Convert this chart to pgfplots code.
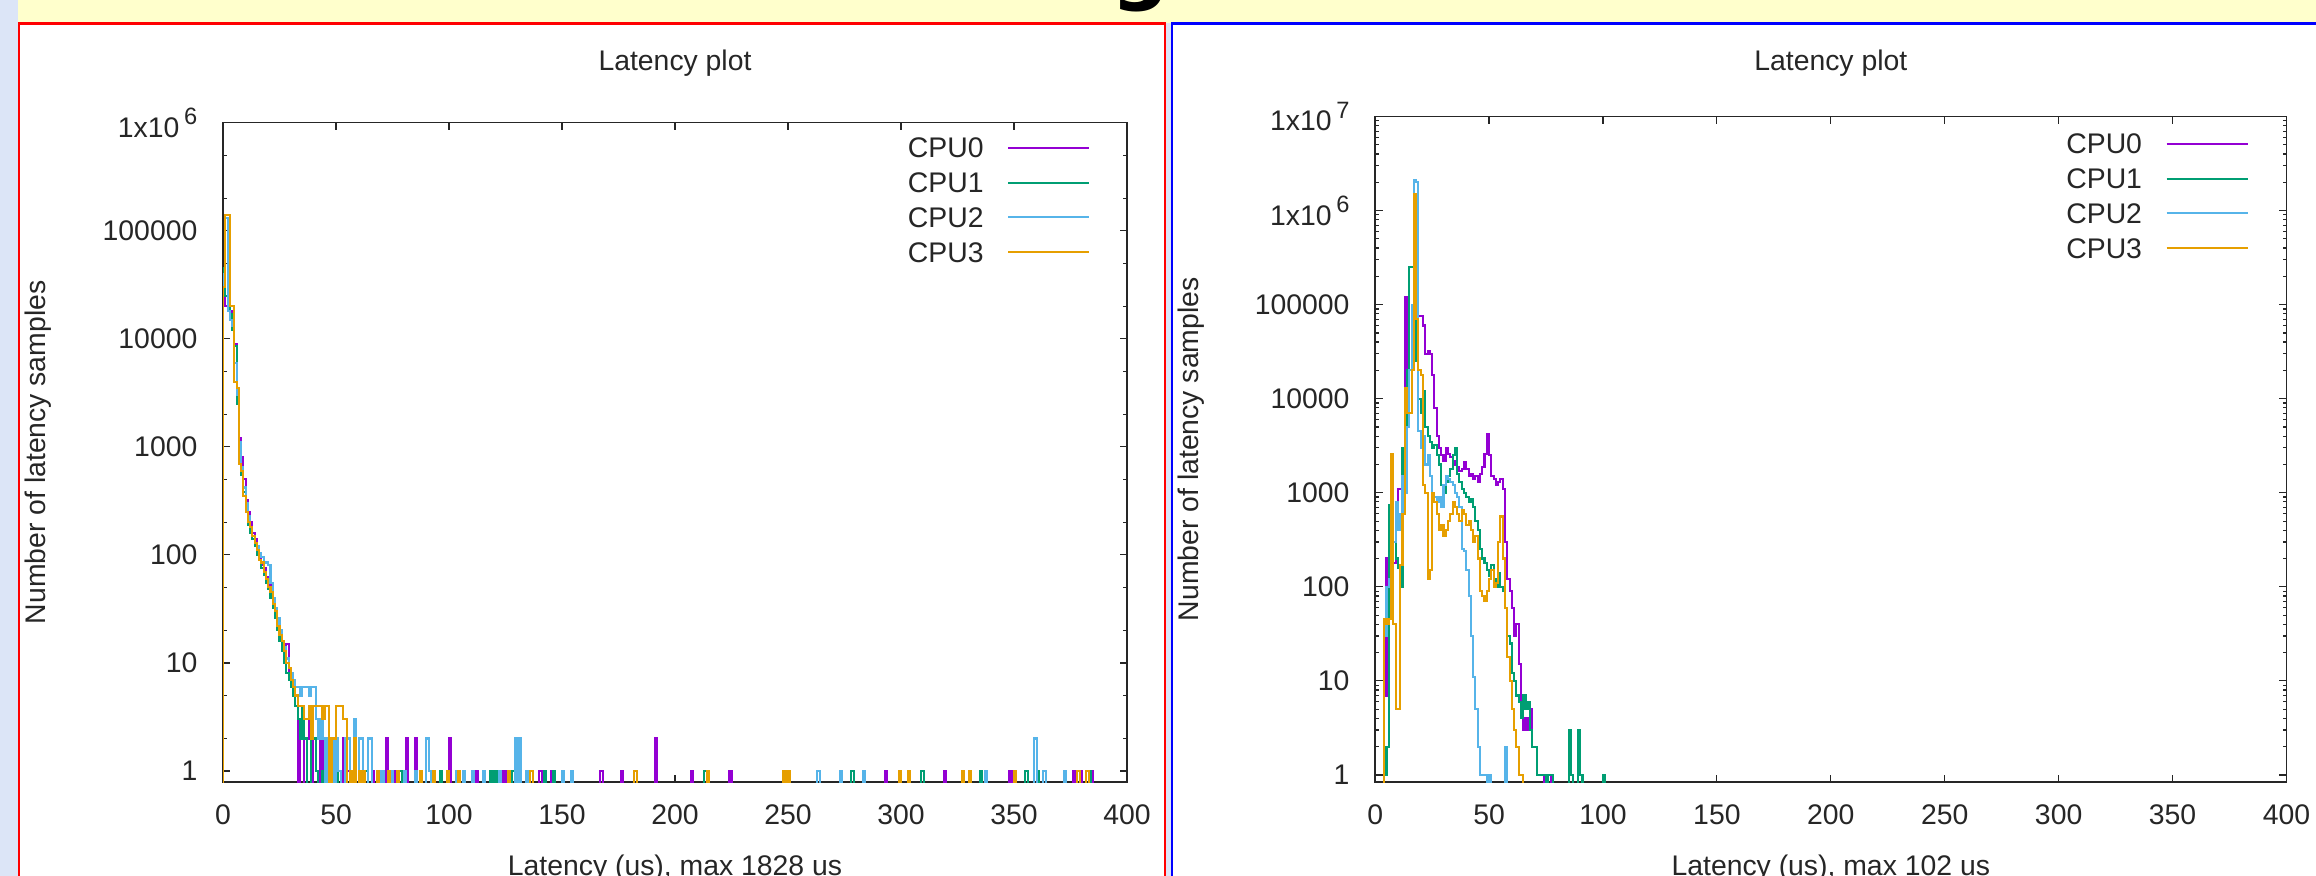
\documentclass[border=0pt]{standalone}
\usepackage{fontspec}
\setmainfont{Liberation Sans}
\newfontfamily\djv{DejaVu Sans}
\usepackage{pgfplots}
\pgfplotsset{compat=1.18}

\definecolor{cpuA}{HTML}{9400D3}
\definecolor{cpuB}{HTML}{009E73}
\definecolor{cpuC}{HTML}{56B4E9}
\definecolor{cpuD}{HTML}{E69F00}
\definecolor{pagebg}{HTML}{DCE5F7}
\definecolor{banner}{HTML}{FFFFCC}
\definecolor{txt}{HTML}{262626}

\begin{document}
\fontsize{9.6}{11.5}\selectfont
\begin{tikzpicture}
\path[use as bounding box] (0,0) rectangle (784pt,296.5pt);
\clip (0,0) rectangle (784pt,296.5pt);

% page furniture, in pixels of the 1568x593 view
\begin{scope}[x=0.5pt, y=-0.5pt, yshift=296.5pt]
  \fill[pagebg] (0,0) rectangle (1568,593);
  \fill[banner] (12.5,0) rectangle (1568,15.8);
  \node[anchor=base, inner sep=0pt, font=\djv\bfseries\fontsize{27.5}{30}\selectfont] at (772,-3.6) {g};
  \filldraw[fill=white, draw=red, line width=0.8pt] (12.9,15.8) rectangle (788.7,640);
  \filldraw[fill=white, draw=blue, line width=0.8pt] (793.5,15.8) rectangle (1600,640);
\end{scope}

% left plot
\begin{semilogyaxis}[
  scale only axis,
  at={(75.5pt,31.75pt)}, anchor=south west,
  width=306pt, height=223.25pt,
  xmin=0, xmax=400, ymin=0.79, ymax=1e6,
  xtick={0,50,100,150,200,250,300,350,400},
  xticklabels={0,50,100,150,200,250,300,350,400},
  ytick={1,1e1,1e2,1e3,1e4,1e5,1e6},
  yticklabels={1,10,100,1000,10000,100000,{1x10\,\raisebox{0.45em}{\fontsize{8}{8}\selectfont 6}}},
  minor ytick={2,5,20,50,200,500,2e3,5e3,2e4,5e4,2e5,5e5},
  tick pos=both, tick align=inside,
  major tick length=2.5pt, minor tick length=1.3pt,
  every tick/.style={black!85, line width=0.4pt},
  axis line style={black!85, line width=0.5pt},
  xticklabel style={inner sep=0pt, anchor=north, yshift=-7.5pt, text=txt},
  yticklabel style={inner sep=0pt, anchor=east, xshift=-8.5pt, text=txt},
  every axis y label/.style={at={(rel axis cs:0,0.5)}, xshift=-62.5pt, rotate=90, anchor=center, text=txt},
  every axis x label/.style={at={(rel axis cs:0.5,0)}, yshift=-29.25pt, anchor=center, text=txt},
  every axis title/.style={at={(rel axis cs:0.5,1)}, yshift=20pt, anchor=center, text=txt},
  title={Latency plot},
  xlabel={Latency (us), max 1828 us},
  ylabel={Number of latency samples},
  legend plot pos=right, legend cell align=right,
  legend image code/.code={\draw[#1, line width=0.7pt] (0pt,0pt) -- (27.5pt,0pt);},
  legend style={draw=none, fill=none, inner sep=0pt, at={(1,1)}, anchor=north east,
    xshift=-12.15pt, yshift=-4.85pt, row sep=4.9pt, column sep=8pt,
    nodes={inner sep=0pt, text height=6.9pt, text depth=0pt, text=txt}},
]
\addplot[const plot, mark=none, line width=0.7pt, cpuA] coordinates {(0,0.1)(0,35000)(1,20000)(2,22000)(3,18000)(4,15000)(5,9000)(6,3000)(7,1200)(8,800)(9,500)(10,320)(11,250)(12,200)(13,160)(14,140)(15,110)(16,100)(17,80)(18,75)(19,62)(20,55)(21,42)(22,36)(23,30)(24,25)(25,20)(26,15)(27,13)(28,15)(29,8)(30,7)(31,5)(32,4)(33,0.1)(34,3)(35,2)(36,0.1)(37,2)(38,3)(39,0.1)(40,2)(41,1)(42,0.1)(43,2)(44,0.1)(45,1)(46,0.1)(47,2)(48,0.1)(50,1)(51,0.1)(53,2)(54,0.1)(55,1)(56,0.1)(58,1)(59,0.1)(61,1)(62,0.1)(66,1)(67,0.1)(72,2)(73,0.1)(75,1)(76,0.1)(81,2)(82,0.1)(85,2)(86,0.1)(100,2)(101,0.1)(112,1)(113,0.1)(124,1)(125,0.1)(131,1)(132,0.1)(140,1)(141,0.1)(145,1)(146,0.1)(167,1)(168,0.1)(176,1)(177,0.1)(191,2)(192,0.1)(207,1)(208,0.1)(224,1)(225,0.1)(283,1)(284,0.1)(293,1)(294,0.1)(319,1)(320,0.1)(348,1)(349,0.1)(376,1)(377,0.1)(379,1)(380,0.1)(384,1)(385,0.1)};
\addplot[const plot, mark=none, line width=0.7pt, cpuB] coordinates {(0,0.1)(0,45000)(1,25000)(2,22000)(3,17000)(4,12000)(5,8500)(6,2500)(7,900)(8,550)(9,380)(10,260)(11,190)(12,160)(13,140)(14,120)(15,100)(16,90)(17,75)(18,65)(19,55)(20,48)(21,40)(22,32)(23,26)(24,20)(25,16)(26,13)(27,10)(28,8)(29,7)(30,6)(31,5)(32,4)(33,3)(34,2)(35,4)(36,2)(37,0.1)(39,3)(40,2)(41,1)(42,0.1)(44,1)(45,0.1)(48,1)(49,0.1)(51,1)(52,0.1)(57,1)(58,0.1)(63,1)(64,0.1)(70,1)(71,0.1)(78,1)(79,0.1)(96,1)(97,0.1)(118,1)(119,0.1)(120,1)(121,0.1)(128,1)(129,0.1)(142,1)(143,0.1)(146,1)(147,0.1)(213,1)(214,0.1)(278,1)(279,0.1)(309,1)(310,0.1)(335,1)(336,0.1)(355,1)(356,0.1)(360,1)(361,0.1)(383,1)(384,0.1)};
\addplot[const plot, mark=none, line width=0.7pt, cpuC] coordinates {(0,0.1)(0,40000)(1,130000)(2,18000)(3,15000)(4,13000)(5,6000)(6,3000)(7,1100)(8,650)(9,420)(10,300)(11,230)(12,180)(13,150)(14,130)(15,120)(16,105)(17,95)(18,85)(19,85)(20,80)(21,55)(22,40)(23,32)(24,26)(25,20)(26,16)(27,14)(28,11)(29,9)(30,8)(31,7)(32,6)(33,6)(34,5)(35,6)(36,6)(37,6)(38,5)(39,6)(40,6)(41,3)(42,2)(43,3)(44,2)(45,0.1)(46,2)(47,1)(48,2)(49,0.1)(50,2)(51,1)(52,0.1)(54,2)(55,2)(56,0.1)(58,3)(59,0.1)(60,2)(61,2)(62,0.1)(64,2)(65,2)(66,0.1)(70,1)(71,0.1)(74,1)(75,0.1)(80,1)(81,0.1)(85,1)(86,0.1)(90,2)(91,1)(92,0.1)(103,1)(104,0.1)(106,1)(107,0.1)(110,1)(111,0.1)(115,1)(116,0.1)(122,1)(123,0.1)(129,2)(130,0.1)(131,2)(132,0.1)(134,1)(135,0.1)(150,1)(151,0.1)(154,1)(155,0.1)(263,1)(264,0.1)(273,1)(274,0.1)(283,1)(284,0.1)(337,1)(338,0.1)(359,2)(360,0.1)(363,1)(364,0.1)(372,1)(373,0.1)};
\addplot[const plot, mark=none, line width=0.7pt, cpuD] coordinates {(0,0.1)(0,30000)(1,140000)(2,140000)(3,20000)(4,20000)(5,4000)(6,3500)(7,700)(8,600)(9,350)(10,250)(11,200)(12,180)(13,150)(14,130)(15,110)(16,90)(17,85)(18,70)(19,60)(20,50)(21,45)(22,35)(23,30)(24,22)(25,18)(26,16)(27,13)(28,10)(29,9)(30,7)(31,6)(32,5)(33,4)(34,4)(35,4)(36,3)(37,3)(38,4)(39,2)(40,4)(41,4)(42,4)(43,4)(44,3)(45,4)(46,4)(47,0.1)(48,2)(49,2)(50,4)(51,4)(52,4)(53,3)(54,3)(55,0.1)(56,1)(57,0.1)(58,2)(59,0.1)(60,1)(61,0.1)(62,1)(63,0.1)(68,1)(69,0.1)(73,1)(74,0.1)(77,1)(78,0.1)(87,1)(88,0.1)(93,1)(94,0.1)(99,1)(100,0.1)(104,1)(105,0.1)(126,1)(127,0.1)(136,1)(137,0.1)(182,1)(183,0.1)(214,1)(215,0.1)(248,1)(249,0.1)(250,1)(251,0.1)(299,1)(300,0.1)(303,1)(304,0.1)(327,1)(328,0.1)(330,1)(331,0.1)(350,1)(351,0.1)(378,1)(379,0.1)(382,1)(383,0.1)};
\legend{CPU0,CPU1,CPU2,CPU3}
\end{semilogyaxis}

% right plot
\begin{semilogyaxis}[
  scale only axis,
  at={(465.5pt,31.75pt)}, anchor=south west,
  width=308.5pt, height=225.3pt,
  xmin=0, xmax=400, ymin=0.84, ymax=1e7,
  xtick={0,50,100,150,200,250,300,350,400},
  xticklabels={0,50,100,150,200,250,300,350,400},
  ytick={1,1e1,1e2,1e3,1e4,1e5,1e6,1e7},
  yticklabels={1,10,100,1000,10000,100000,{1x10\,\raisebox{0.45em}{\fontsize{8}{8}\selectfont 6}},{1x10\,\raisebox{0.45em}{\fontsize{8}{8}\selectfont 7}}},
  minor ytick={2,3,4,5,6,7,8,9,20,30,40,50,60,70,80,90,200,300,400,500,600,700,800,900,2e3,3e3,4e3,5e3,6e3,7e3,8e3,9e3,2e4,3e4,4e4,5e4,6e4,7e4,8e4,9e4,2e5,3e5,4e5,5e5,6e5,7e5,8e5,9e5,2e6,3e6,4e6,5e6,6e6,7e6,8e6,9e6},
  tick pos=both, tick align=inside,
  major tick length=2.5pt, minor tick length=1.3pt,
  every tick/.style={black!85, line width=0.4pt},
  axis line style={black!85, line width=0.5pt},
  xticklabel style={inner sep=0pt, anchor=north, yshift=-7.5pt, text=txt},
  yticklabel style={inner sep=0pt, anchor=east, xshift=-8.5pt, text=txt},
  every axis y label/.style={at={(rel axis cs:0,0.5)}, xshift=-62.25pt, rotate=90, anchor=center, text=txt},
  every axis x label/.style={at={(rel axis cs:0.5,0)}, yshift=-29.25pt, anchor=center, text=txt},
  every axis title/.style={at={(rel axis cs:0.5,1)}, yshift=18pt, anchor=center, text=txt},
  title={Latency plot},
  xlabel={Latency (us), max 102 us},
  ylabel={Number of latency samples},
  legend plot pos=right, legend cell align=right,
  legend image code/.code={\draw[#1, line width=0.7pt] (0pt,0pt) -- (27.5pt,0pt);},
  legend style={draw=none, fill=none, inner sep=0pt, at={(1,1)}, anchor=north east,
    xshift=-12.5pt, yshift=-5.55pt, row sep=4.9pt, column sep=8pt,
    nodes={inner sep=0pt, text height=6.9pt, text depth=0pt, text=txt}},
]
\addplot[const plot, mark=none, line width=0.7pt, cpuA] coordinates {(4,0.1)(4,7)(5,200)(6,150)(7,250)(8,180)(9,600)(10,1100)(11,1100)(12,900)(13,120000)(14,13000)(15,20000)(16,50000)(17,80000)(18,60000)(19,76000)(20,76000)(21,60000)(22,30000)(23,32000)(24,30000)(25,18000)(26,8000)(27,4000)(28,3000)(29,2500)(30,2200)(31,3000)(32,2600)(33,2400)(34,2200)(35,2000)(36,1900)(37,1700)(38,1800)(39,2100)(40,1800)(41,1500)(42,1600)(43,1400)(44,1500)(45,1300)(46,1600)(47,1900)(48,2600)(49,4200)(50,2500)(51,1500)(52,1400)(53,1200)(54,1300)(55,1400)(56,1100)(57,300)(58,120)(59,90)(60,60)(61,30)(62,40)(63,15)(64,5)(65,3)(66,4)(67,3)(68,5)(69,2)(70,2)(71,1)(74,0.1)(75,1)(76,0.1)(77,1)(78,0.1)};
\addplot[const plot, mark=none, line width=0.7pt, cpuB] coordinates {(4,0.1)(4,1)(5,2)(6,750)(7,700)(8,300)(9,200)(10,160)(11,100)(12,3000)(13,5000)(14,20000)(15,250000)(16,250000)(17,100000)(18,25000)(19,10000)(20,7000)(21,12000)(22,5000)(23,4000)(24,3500)(25,3000)(26,3200)(27,2500)(28,2000)(29,1200)(30,1000)(31,1300)(32,1500)(33,1800)(34,2500)(35,3000)(36,1600)(37,1300)(38,1100)(39,1000)(40,900)(41,800)(42,850)(43,700)(44,500)(45,400)(46,250)(47,200)(48,180)(49,150)(50,130)(51,170)(52,120)(53,100)(54,140)(55,100)(56,90)(57,60)(58,30)(59,25)(60,12)(61,10)(62,7)(63,6)(64,4)(65,7)(66,5)(67,6)(68,3)(69,2)(70,2)(71,1)(75,0.1)(76,1)(78,0.1)(85,3)(86,1)(87,0.1)(89,3)(90,1)(91,0.1)(100,1)(101,0.1)};
\addplot[const plot, mark=none, line width=0.7pt, cpuC] coordinates {(4,0.1)(4,30)(5,100)(6,120)(7,100)(8,300)(9,800)(10,400)(11,600)(12,1500)(13,1000)(14,5000)(15,20000)(16,100000)(17,2100000)(18,2000000)(19,4500)(20,3000)(21,4000)(22,2000)(23,2500)(24,1500)(25,1000)(26,900)(27,800)(28,900)(29,700)(30,1200)(31,1500)(32,1400)(33,1300)(34,1200)(35,1000)(36,900)(37,700)(38,250)(39,240)(40,150)(41,80)(42,30)(43,11)(44,5)(45,2)(46,1)(49,0.1)(50,1)(51,0.1)(57,2)(58,0.1)};
\addplot[const plot, mark=none, line width=0.7pt, cpuD] coordinates {(4,0.1)(4,45)(5,40)(6,45)(7,2600)(8,40)(9,5)(10,5)(11,170)(12,600)(13,13000)(14,7000)(15,7000)(16,20000)(17,1500000)(18,70000)(19,20000)(20,18000)(21,1200)(22,1000)(23,120)(24,150)(25,1000)(26,800)(27,600)(28,400)(29,450)(30,350)(31,400)(32,500)(33,600)(34,800)(35,700)(36,600)(37,500)(38,650)(39,600)(40,450)(41,500)(42,400)(43,300)(44,350)(45,200)(46,90)(47,80)(48,70)(49,90)(50,120)(51,150)(52,100)(53,110)(54,300)(55,560)(56,200)(57,60)(58,18)(59,10)(60,5)(61,3)(62,2)(63,1)(65,0.1)};
\legend{CPU0,CPU1,CPU2,CPU3}
\end{semilogyaxis}
\end{tikzpicture}
\end{document}
